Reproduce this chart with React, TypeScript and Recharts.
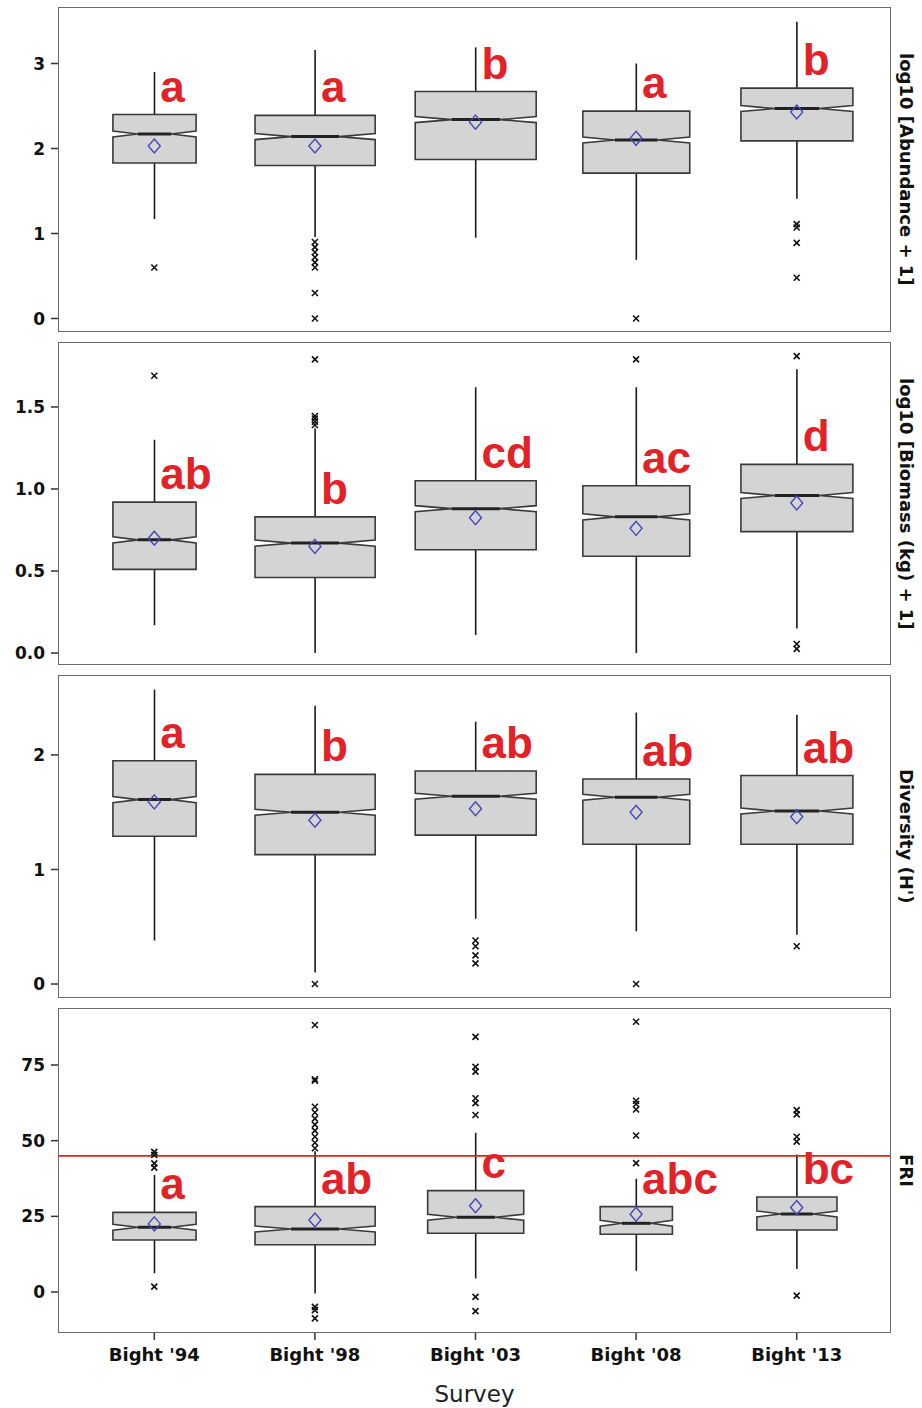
import React from 'react';
import { ComposedChart, Bar, Scatter, XAxis, YAxis, ReferenceLine } from 'recharts';

const SURVEYS = ["Bight '94", "Bight '98", "Bight '03", "Bight '08", "Bight '13"];

// relative sample sizes (box width ~ sqrt(n))
const N_MAIN = [69, 144, 146, 114, 125];
const N_FRI = [69, 144, 92, 52, 64];

// log10 [Abundance + 1]
const abundLo = [1.17, 0.96, 0.95, 0.69, 1.41];
const abundQ1 = [1.83, 1.80, 1.87, 1.71, 2.09];
const abundMed = [2.17, 2.14, 2.34, 2.10, 2.47];
const abundQ3 = [2.40, 2.39, 2.67, 2.44, 2.71];
const abundHi = [2.90, 3.16, 3.19, 3.00, 3.49];
const abundMean = [2.03, 2.03, 2.31, 2.12, 2.43];
const abundOut = [[0.60], [0.90, 0.84, 0.78, 0.72, 0.66, 0.60, 0.30, 0.0], [], [0.0], [1.11, 1.07, 0.89, 0.48]];
const abundLetters = ['a', 'a', 'b', 'a', 'b'];

// log10 [Biomass (kg) + 1]
const bioLo = [0.17, 0.0, 0.11, 0.0, 0.15];
const bioQ1 = [0.51, 0.46, 0.63, 0.59, 0.74];
const bioMed = [0.69, 0.67, 0.88, 0.83, 0.96];
const bioQ3 = [0.92, 0.83, 1.05, 1.02, 1.15];
const bioHi = [1.30, 1.37, 1.62, 1.62, 1.73];
const bioMean = [0.70, 0.65, 0.825, 0.76, 0.915];
const bioOut = [[1.69], [1.79, 1.445, 1.43, 1.41, 1.39], [], [1.79], [1.81, 0.055, 0.025]];
const bioLetters = ['ab', 'b', 'cd', 'ac', 'd'];

// Diversity (H')
const divLo = [0.38, 0.10, 0.57, 0.46, 0.43];
const divQ1 = [1.29, 1.13, 1.30, 1.22, 1.22];
const divMed = [1.61, 1.50, 1.64, 1.63, 1.51];
const divQ3 = [1.95, 1.83, 1.86, 1.79, 1.82];
const divHi = [2.57, 2.43, 2.29, 2.37, 2.35];
const divMean = [1.59, 1.43, 1.53, 1.50, 1.46];
const divOut = [[], [0.0], [0.38, 0.33, 0.25, 0.18], [0.0], [0.33]];
const divLetters = ['a', 'b', 'ab', 'ab', 'ab'];

// FRI
const friLo = [6.2, -0.5, 4.5, 7.0, 7.6];
const friQ1 = [17.2, 15.6, 19.4, 19.1, 20.5];
const friMed = [21.4, 20.8, 24.7, 22.7, 25.8];
const friQ3 = [26.3, 28.2, 33.5, 28.2, 31.4];
const friHi = [38.7, 46.5, 52.6, 37.4, 45.4];
const friMean = [22.5, 23.8, 28.5, 25.7, 27.9];
const friOut = [
    [46.3, 45.3, 42.5, 41.1, 1.8],
    [88.2, 70.3, 69.8, 61.2, 59.3, 57.3, 55.3, 53.3, 51.3, 49.3, 47.5, -4.9, -6.0, -8.7],
    [84.3, 74.4, 72.8, 64.0, 62.4, 58.5, -1.6, -6.3],
    [89.3, 63.2, 62.1, 60.3, 51.7, 42.6],
    [60.1, 58.7, 51.3, 49.7, -1.2],
];
const friLetters = ['a', 'ab', 'c', 'abc', 'bc'];
const FRI_THRESHOLD = 45;

const BOX_MAX = 121;
const N_REF = 146;
const FONT = 'DejaVu Sans';

const buildRows = (lo, q1, med, q3, hi, mean, out, letters, n) =>
    SURVEYS.map((s, i) => {
        const row: any = { survey: s, lo: lo[i], q1: q1[i], med: med[i], q3: q3[i], hi: hi[i], mean: mean[i], letter: letters[i], n: n[i] };
        out[i].forEach((v, j) => { row['o' + j] = v; });
        return row;
    });

const BoxShape = (props: any) => {
    const { x, y, width, height } = props;
    const d = props.payload || props;
    const { lo, hi, q1, q3, med, n } = d;
    // linear scale -> interpolate inside the bar rectangle drawn for [lo, hi]
    const py = (v: number) => y + (height * (hi - v)) / (hi - lo);
    const cx = x + width / 2;
    const hw = (BOX_MAX / 2) * Math.sqrt(n / N_REF);
    const L = cx - hw, R = cx + hw;
    const inset = hw * 0.6;
    const yQ3 = py(q3), yQ1 = py(q1), yMed = py(med);
    const nh = 3;
    const poly = [
        [L, yQ3], [R, yQ3], [R, yMed - nh], [R - inset, yMed], [R, yMed + nh], [R, yQ1],
        [L, yQ1], [L, yMed + nh], [L + inset, yMed], [L, yMed - nh],
    ].map(p => p.join(',')).join(' ');
    return (
        <g>
            <line x1={cx} x2={cx} y1={py(hi)} y2={py(lo)} stroke="#1a1a1a" strokeWidth={1.6} />
            <polygon points={poly} fill="#d4d4d4" stroke="#3a3a3a" strokeWidth={1.6} />
            <line x1={L + inset} x2={R - inset} y1={yMed} y2={yMed} stroke="#222" strokeWidth={3} />
        </g>
    );
};

const XMark = ({ cx, cy }: any) => {
    if (cx == null || cy == null || !isFinite(cx) || !isFinite(cy)) return <g />;
    const s = 3;
    return <path d={`M${cx - s},${cy - s}L${cx + s},${cy + s}M${cx - s},${cy + s}L${cx + s},${cy - s}`} stroke="#111" strokeWidth={1.6} />;
};

const MeanMark = ({ cx, cy }: any) => {
    if (cx == null || cy == null || !isFinite(cy)) return <g />;
    return <path d={`M${cx},${cy - 7}L${cx + 6},${cy}L${cx},${cy + 7}L${cx - 6},${cy}Z`} fill="none" stroke="#4747b5" strokeWidth={1.4} />;
};

const LetterMark = ({ cx, cy, payload }: any) => {
    if (cx == null || cy == null || !isFinite(cy)) return <g />;
    return (
        <text x={cx + 6} y={cy - 13} fill="#e32227" fontFamily="Liberation Sans" fontWeight="bold" fontSize={44}>
            {payload.letter}
        </text>
    );
};

const tickStyle = { fontFamily: FONT, fontWeight: 'bold', fontSize: 17, fill: '#111' };

const Panel = ({ rows, top, height, domain, ticks, fmt, label, last = false, refY = null }: any) => {
    const nOut = Math.max(...rows.map(r => Object.keys(r).filter(k => /^o\d+$/.test(k)).length));
    const plotH = last ? height - 75 : height;
    return (
        <>
            <div style={{ position: 'absolute', left: 0, top }}>
                <ComposedChart width={922} height={height} data={rows} margin={{ top: 0, right: 31, bottom: 0, left: 0 }}>
                    <XAxis
                        dataKey="survey"
                        hide={!last}
                        height={last ? 75 : 0}
                        padding={{ left: 16, right: 14 }}
                        axisLine={false}
                        tickLine={{ stroke: '#333', strokeWidth: 1.5 }}
                        tickSize={7}
                        tickMargin={8}
                        tick={{ ...tickStyle, fontSize: 18 }}
                        interval={0}
                        label={last ? { value: 'Survey', position: 'insideBottom', offset: 6, style: { fontFamily: FONT, fontSize: 23, fill: '#222' } } : undefined}
                    />
                    <YAxis
                        width={58}
                        type="number"
                        domain={domain}
                        allowDataOverflow
                        ticks={ticks}
                        interval={0}
                        axisLine={false}
                        tickLine={{ stroke: '#333', strokeWidth: 1.5 }}
                        tickSize={7}
                        tickMargin={6}
                        tick={tickStyle}
                        tickFormatter={fmt}
                    />
                    <Bar dataKey={(d: any) => [d.lo, d.hi]} barSize={BOX_MAX} shape={<BoxShape />} isAnimationActive={false} />
                    {refY != null && <ReferenceLine y={refY} stroke="#f01c1c" strokeWidth={1.8} />}
                    {Array.from({ length: nOut }, (_, j) => (
                        <Scatter key={j} dataKey={'o' + j} shape={<XMark />} isAnimationActive={false} />
                    ))}
                    <Scatter dataKey="mean" shape={<MeanMark />} isAnimationActive={false} />
                    <Scatter dataKey="q3" shape={<LetterMark />} isAnimationActive={false} />
                </ComposedChart>
            </div>
            <div style={{ position: 'absolute', left: 58, top, width: 833, height: plotH, border: '1.5px solid #6a6a6a', boxSizing: 'border-box', pointerEvents: 'none' }} />
            <div style={{ position: 'absolute', left: 891, top, width: 31, height: plotH, display: 'flex', alignItems: 'center', justifyContent: 'center' }}>
                <span style={{ writingMode: 'vertical-rl', fontFamily: FONT, fontWeight: 'bold', fontSize: 18, color: '#111', whiteSpace: 'nowrap' }}>{label}</span>
            </div>
        </>
    );
};

export default function App() {
    const abund = buildRows(abundLo, abundQ1, abundMed, abundQ3, abundHi, abundMean, abundOut, abundLetters, N_MAIN);
    const bio = buildRows(bioLo, bioQ1, bioMed, bioQ3, bioHi, bioMean, bioOut, bioLetters, N_MAIN);
    const div = buildRows(divLo, divQ1, divMed, divQ3, divHi, divMean, divOut, divLetters, N_MAIN);
    const fri = buildRows(friLo, friQ1, friMed, friQ3, friHi, friMean, friOut, friLetters, N_FRI);
    return (
        <div style={{ position: 'absolute', left: 0, top: 0, width: 922, height: 1408, background: '#fff', overflow: 'hidden' }}>
            <Panel rows={abund} top={7} height={325} domain={[-0.159, 3.665]} ticks={[0, 1, 2, 3]} fmt={(v) => String(v)} label="log10 [Abundance + 1]" />
            <Panel rows={bio} top={342} height={323} domain={[-0.073, 1.896]} ticks={[0, 0.5, 1, 1.5]} fmt={(v) => v.toFixed(1)} label="log10 [Biomass (kg) + 1]" />
            <Panel rows={div} top={675} height={323} domain={[-0.122, 2.698]} ticks={[0, 1, 2]} fmt={(v) => String(v)} label="Diversity (H')" />
            <Panel rows={fri} top={1008} height={400} domain={[-13.54, 93.83]} ticks={[0, 25, 50, 75]} fmt={(v) => String(v)} label="FRI" last refY={FRI_THRESHOLD} />
        </div>
    );
}
